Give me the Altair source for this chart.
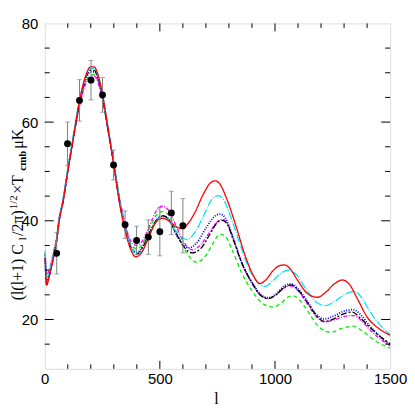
import altair as alt
import pandas as pd

# ---- data ----
L_EARLY = [2, 8, 20, 30, 40, 52, 62, 80, 100, 125, 150, 175, 200, 215, 230, 250, 275, 300, 325, 350]
red_early = [32.5, 27.0, 28.8, 30.8, 33.0, 36.0, 39.8, 44.0, 50.0, 57.0, 64.0, 69.0, 71.2, 71.2, 69.8, 65.8, 58.7, 51.3, 43.6, 37.9]
black_early = [32.5, 27.0, 28.8, 30.8, 33.0, 36.0, 39.8, 44.0, 50.0, 57.0, 63.8, 68.5, 70.5, 70.5, 69.3, 65.5, 58.6, 51.4, 43.8, 38.2]
cyan_early = [34.0, 28.5, 29.6, 31.5, 33.6, 36.4, 40.2, 44.5, 50.5, 57.5, 64.2, 68.8, 70.9, 70.9, 69.7, 65.9, 59.0, 51.8, 44.2, 38.5]
blue_early = [33.0, 27.8, 29.2, 31.2, 33.3, 36.2, 40.0, 44.2, 50.2, 57.2, 63.8, 68.3, 70.2, 70.2, 69.0, 65.3, 58.5, 51.5, 44.0, 38.6]
magenta_early = [33.5, 29.0, 30.2, 32.0, 34.0, 36.8, 40.3, 44.3, 50.0, 56.8, 63.0, 67.4, 69.2, 69.3, 68.2, 64.8, 58.3, 51.6, 44.6, 39.3]
green_early = [33.5, 27.5, 29.0, 31.0, 33.2, 36.1, 39.9, 44.0, 50.0, 56.9, 63.2, 67.7, 69.5, 69.6, 68.5, 65.0, 58.4, 51.5, 44.4, 39.0]

red_l = [375, 395, 420, 450, 480, 510, 540, 570, 595, 620, 650, 690, 720, 740, 760, 790, 830, 870, 905, 934, 960, 990, 1020, 1042, 1065, 1100, 1140, 1185, 1220, 1260, 1293, 1320, 1360, 1400, 1450, 1500]
red_v = [34.0, 32.7, 33.5, 36.5, 39.5, 40.5, 40.0, 38.8, 38.4, 39.3, 41.5, 45.5, 47.7, 48.1, 47.5, 44.5, 39.0, 33.0, 29.0, 27.3, 28.0, 29.8, 30.9, 31.05, 30.3, 27.8, 25.3, 24.5, 25.5, 27.3, 28.0, 27.3, 24.0, 20.5, 18.2, 16.8]

cyan_l = [375, 400, 425, 450, 480, 505, 530, 560, 590, 618, 650, 690, 725, 754, 780, 810, 850, 890, 925, 955, 990, 1030, 1063, 1090, 1130, 1180, 1221, 1260, 1300, 1343, 1370, 1410, 1450, 1500]
cyan_v = [34.5, 33.3, 34.0, 36.5, 39.5, 40.7, 40.3, 38.5, 36.8, 36.2, 37.5, 41.0, 44.3, 45.1, 44.0, 40.5, 35.0, 30.0, 27.5, 26.7, 27.8, 29.5, 30.0, 29.2, 26.5, 23.5, 22.8, 23.7, 25.0, 25.7, 24.8, 21.8, 19.2, 16.9]

black_l = [375, 402, 430, 460, 490, 515, 540, 570, 600, 640, 680, 720, 750, 770, 790, 820, 860, 900, 935, 970, 1005, 1040, 1070, 1100, 1140, 1180, 1214, 1250, 1290, 1336, 1370, 1410, 1450, 1500]
black_v = [34.5, 33.3, 35.0, 38.0, 40.4, 41.0, 40.2, 37.5, 35.0, 33.5, 34.5, 37.5, 39.7, 40.1, 39.5, 36.0, 31.0, 27.5, 25.0, 24.2, 25.0, 26.5, 27.0, 26.0, 23.5, 20.8, 19.6, 20.0, 21.0, 21.5, 20.3, 18.5, 16.8, 15.1]

blue_l = [375, 402, 430, 460, 490, 515, 540, 570, 600, 625, 660, 700, 740, 761, 785, 815, 855, 900, 935, 968, 1005, 1040, 1070, 1100, 1140, 1180, 1214, 1250, 1300, 1340, 1375, 1410, 1450, 1500]
blue_v = [34.7, 33.6, 35.2, 38.0, 40.4, 41.0, 40.2, 37.3, 35.3, 34.5, 35.5, 38.5, 41.0, 41.35, 40.5, 37.0, 31.5, 27.5, 25.2, 24.4, 25.2, 26.8, 27.2, 26.2, 23.7, 21.0, 20.1, 20.6, 21.7, 22.0, 20.8, 18.8, 16.8, 14.8]

magenta_l = [375, 400, 425, 455, 485, 510, 535, 565, 600, 640, 680, 720, 750, 769, 790, 820, 860, 900, 935, 970, 1005, 1040, 1070, 1100, 1140, 1180, 1214, 1250, 1300, 1343, 1375, 1410, 1450, 1500]
magenta_v = [35.8, 35.0, 36.0, 39.0, 42.0, 43.0, 42.3, 39.5, 36.0, 34.1, 35.3, 38.0, 39.8, 40.3, 39.7, 36.3, 31.0, 27.3, 25.0, 24.3, 25.0, 26.4, 26.8, 25.8, 23.2, 20.5, 19.5, 19.8, 20.6, 20.8, 19.8, 18.0, 16.3, 14.7]

green_l = [375, 402, 430, 460, 490, 515, 540, 570, 610, 660, 700, 735, 761, 785, 815, 855, 900, 945, 991, 1025, 1055, 1078, 1105, 1145, 1190, 1243, 1290, 1343, 1375, 1420, 1460, 1500]
green_v = [35.2, 34.3, 35.8, 39.0, 41.4, 41.9, 41.0, 38.0, 34.0, 31.6, 33.0, 35.8, 37.3, 36.8, 34.0, 29.5, 25.8, 23.3, 22.5, 23.3, 24.5, 24.8, 24.0, 21.5, 18.5, 17.4, 18.2, 18.65, 17.8, 16.2, 15.0, 14.2]

pts_l = [52, 99, 151, 201, 251, 299, 349, 399, 450, 500, 550, 600]
pts_v = [33.4, 55.6, 64.4, 68.5, 65.5, 51.3, 39.2, 36.0, 36.7, 37.8, 41.6, 39.0]
pts_err = [4.2, 4.4, 4.2, 4.0, 3.5, 3.0, 2.8, 2.9, 3.5, 4.9, 4.4, 5.5]

X_MAJOR = [0, 500, 1000, 1500]
X_MINOR = [100, 200, 300, 400, 600, 700, 800, 900, 1100, 1200, 1300, 1400]
Y_MAJOR = [20, 40, 60, 80]
Y_MINOR = [15, 25, 30, 35, 45, 50, 55, 65, 70, 75]

W = 348
H = 348
xs = alt.Scale(domain=[0, 1500], nice=False, zero=False)
ys = alt.Scale(domain=[10, 80], nice=False, zero=False)
LABEL_FONT = "Liberation Sans"
SERIF = "Liberation Serif"

XA = alt.Axis(values=X_MAJOR, ticks=False, domain=False, grid=False, title=None,
              labelFont=LABEL_FONT, labelFontSize=15, labelColor="black", labelPadding=3,
              format="d", labelOverlap=False, labelFlush=False, labelBound=False)
YA = alt.Axis(values=Y_MAJOR, ticks=False, domain=False, grid=False, title=None,
              labelFont=LABEL_FONT, labelFontSize=15, labelColor="black", labelPadding=7,
              format="d", labelOverlap=False, labelFlush=False, labelBound=False)


def X(f):
    return alt.X(f, scale=xs, axis=XA, title=None)


def Y(f):
    return alt.Y(f, scale=ys, axis=YA, title=None)


def curve_df(early, l_late, v_late):
    return pd.DataFrame({"l": L_EARLY + l_late, "v": early + v_late})


styles = [
    ("green", green_early, green_l, green_v, "#00ee00", [4, 3], 1.3),
    ("magenta", magenta_early, magenta_l, magenta_v, "#ff00ff", [4, 1.5, 1, 1.5], 1.3),
    ("blue", blue_early, blue_l, blue_v, "#0000ff", [1, 1.5], 1.8),
    ("black", black_early, black_l, black_v, "#000000", [6, 2, 2, 2], 1.3),
    ("cyan", cyan_early, cyan_l, cyan_v, "#00e5ff", [8, 1.5, 1, 1.5], 1.3),
    ("red", red_early, red_l, red_v, "#ff0000", [1, 0], 1.3),
]

layers = []
for name, early, ll, vv, col, dash, sw in styles:
    df = curve_df(early, ll, vv)
    layers.append(
        alt.Chart(df).mark_line(color=col, strokeDash=dash, strokeWidth=sw, interpolate="monotone").encode(
            x=X("l:Q"), y=Y("v:Q"))
    )

pdf = pd.DataFrame({"l": pts_l, "v": pts_v, "err": pts_err})
pdf["lo"] = pdf["v"] - pdf["err"]
pdf["hi"] = pdf["v"] + pdf["err"]

layers.append(
    alt.Chart(pdf).mark_rule(color="#808080", strokeWidth=1).encode(
        x=X("l:Q"), y=Y("lo:Q"), y2="hi:Q")
)
for fld in ["lo", "hi"]:
    layers.append(
        alt.Chart(pdf).mark_tick(color="#808080", thickness=1, size=5, orient="horizontal").encode(
            x=X("l:Q"), y=Y(f"{fld}:Q"))
    )
layers.append(
    alt.Chart(pdf).mark_circle(color="black", opacity=1, size=48).encode(
        x=X("l:Q"), y=Y("v:Q"))
)


# inward ticks on all four sides
def xticks(vals, length):
    d = pd.DataFrame({"l": vals})
    bot = alt.Chart(d).mark_rule(color="black", strokeWidth=1).encode(
        x=X("l:Q"), y=alt.value(H), y2=alt.value(H - length))
    top = alt.Chart(d).mark_rule(color="black", strokeWidth=1).encode(
        x=X("l:Q"), y=alt.value(0), y2=alt.value(length))
    return [bot, top]


def yticks(vals, length):
    d = pd.DataFrame({"v": vals})
    left = alt.Chart(d).mark_rule(color="black", strokeWidth=1).encode(
        y=Y("v:Q"), x=alt.value(0), x2=alt.value(length))
    right = alt.Chart(d).mark_rule(color="black", strokeWidth=1).encode(
        y=Y("v:Q"), x=alt.value(W), x2=alt.value(W - length))
    return [left, right]


layers += xticks(X_MAJOR[1:-1], 8) + xticks(X_MINOR, 4.5)
layers += yticks(Y_MAJOR[:-1], 9) + yticks(Y_MINOR, 5)

# x title
layers.append(
    alt.Chart(pd.DataFrame({"t": ["l"]})).mark_text(font=SERIF, fontSize=16, align="center",
                                                     baseline="alphabetic", color="black").encode(
        x=alt.value(173), y=alt.value(383), text="t")
)

# y title built from pieces (text, size, shift, weight, width)
pieces = [
    ("(l(l+1)  C", 16, 0, "normal", 60.6),
    ("l", 11, 3, "normal", 4.3),
    ("/2π)", 16, 0, "normal", 26.8),
    ("1/2", 11, -6, "normal", 15.6),
    (" ×T", 16, 0, "normal", 23.3),
    ("cmb", 11, 3, "bold", 22.0),
    (" μK", 16, 0, "normal", 23.6),
]
ypos = 279
XB = -22
for txt, fs, shift, wt, wdt in pieces:
    layers.append(
        alt.Chart(pd.DataFrame({"t": [txt]})).mark_text(font=SERIF, fontSize=fs, fontWeight=wt, angle=270,
                                                         align="left", baseline="alphabetic",
                                                         color="black").encode(
            x=alt.value(XB + shift), y=alt.value(ypos), text="t")
    )
    ypos -= wdt

chart = alt.layer(*layers).properties(
    width=W, height=H,
    autosize=alt.AutoSizeParams(type="none"),
    padding={"left": 37, "top": 14, "right": 17, "bottom": 45},
).configure_view(stroke="black", strokeWidth=1.3).configure(background="white")

chart.save("out.html", embed_options={"renderer": "svg", "actions": False})
